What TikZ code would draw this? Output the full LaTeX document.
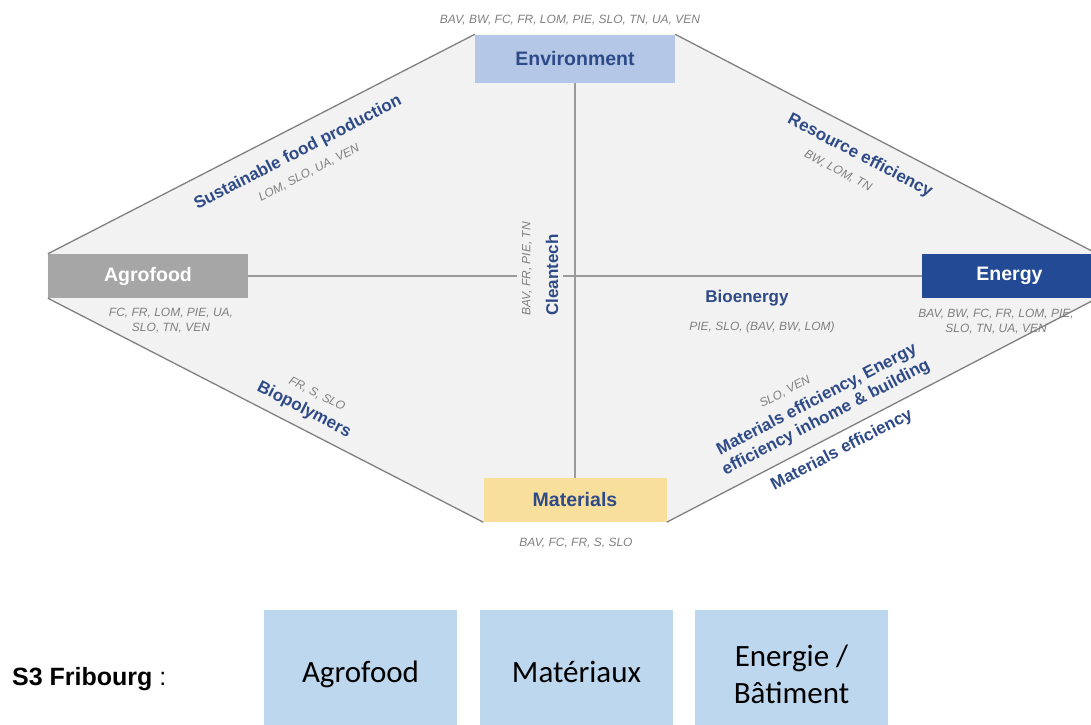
\documentclass[tikz,border=0pt]{standalone}
\usepackage{fontspec}
\setmainfont{Liberation Sans}
\newfontfamily\calibri{Carlito}
\usetikzlibrary{backgrounds}
\definecolor{bg}{HTML}{F2F2F2}
\definecolor{envblue}{HTML}{B4C7E7}
\definecolor{agrogrey}{HTML}{A6A6A6}
\definecolor{enblue}{HTML}{234A94}
\definecolor{matyellow}{HTML}{F8DF9C}
\definecolor{navy}{HTML}{2E4A87}
\definecolor{codegrey}{HTML}{7F7F7F}
\definecolor{edgegrey}{HTML}{808080}
\definecolor{axisgrey}{HTML}{9A9A9A}
\definecolor{s3blue}{HTML}{BDD7EE}
\begin{document}
\begin{tikzpicture}[x=1pt, y=-1pt,
        hub/.style={minimum height=44, inner sep=0, font=\bfseries\fontsize{19.5}{22}\selectfont},
        topic/.style={text=navy, align=center, inner sep=1, font=\bfseries\fontsize{17}{20}\selectfont},
        code/.style={text=codegrey, align=center, inner sep=1, font=\itshape\fontsize{12}{14.5}\selectfont},
        s3box/.style={fill=s3blue, minimum width=193, minimum height=128, inner sep=0, align=center, font=\calibri\fontsize{31}{37}\selectfont},
        edge/.style={draw=edgegrey, line width=1.3},
        axis/.style={draw=axisgrey, line width=1.6}]
            \useasboundingbox (0,0) rectangle (1091,724);
            \node[hub, fill=envblue, text=navy, minimum width=200, minimum height=48] (Env) at (575,58.5) {Environment};
            \node[hub, fill=agrogrey, text=white, minimum width=200] (Agro) at (148,276) {Agrofood};
            \node[hub, fill=enblue, text=white, minimum width=175] (En) at (1009.5,276) {Energy};
            \node[hub, fill=matyellow, text=navy, minimum width=183] (Mat) at (575,500) {Materials};
            \begin{scope}[on background layer]
                \fill[bg] (Agro.north west) -- (Env.north west) -- (Env.north east) -- (En.north east)
                    -- (En.south east) -- (Mat.south east) -- (Mat.south west) -- (Agro.south west) -- cycle;
            \end{scope}
            \draw[edge] (Agro.north west) -- (Env.north west);
            \draw[edge] (Env.north east) -- (En.north east);
            \draw[edge] (En.south east) -- (Mat.south east);
            \draw[edge] (Mat.south west) -- (Agro.south west);
            \coordinate (gapL) at (517,276);
            \coordinate (gapR) at (563,276);
            \draw[axis] (Env) -- (Mat);
            \draw[axis] (Agro) -- (gapL);
            \draw[axis] (gapR) -- (En);
            \node[code] (EnvCodes) at (570,20) {BAV, BW, FC, FR, LOM, PIE, SLO, TN, UA, VEN};
            \node[code] (AgroCodes) at (171,320.5) {FC, FR, LOM, PIE, UA,\\SLO, TN, VEN};
            \node[code] (EnCodes) at (996,321.5) {BAV, BW, FC, FR, LOM, PIE,\\SLO, TN, UA, VEN};
            \node[code] (MatCodes) at (576,543) {BAV, FC, FR, S, SLO};
            \node[topic, rotate=27.2] (Food) at (298,153) {Sustainable food production};
            \node[code, rotate=27.2] (FoodCodes) at (309,173) {LOM, SLO, UA, VEN};
            \node[topic, rotate=-27.5] (Res) at (860,156) {Resource efficiency};
            \node[code, rotate=-27.5] (ResCodes) at (838,171) {BW, LOM, TN};
            \node[topic, rotate=90] (Clean) at (552,275) {Cleantech};
            \node[code, rotate=90] (CleanCodes) at (527,269) {BAV, FR, PIE, TN};
            \node[topic] (Bio) at (747,298) {Bioenergy};
            \node[code] (BioCodes) at (762,327) {PIE, SLO, (BAV, BW, LOM)};
            \node[code, rotate=-27.2] (PolyCodes) at (317,394) {FR, S, SLO};
            \node[topic, rotate=-27.2] (Poly) at (304,410) {Biopolymers};
            \node[code, rotate=27.5] (HomeCodes) at (785,392) {SLO, VEN};
            \node[topic, rotate=27.5] (Home) at (821.5,409) {Materials efficiency, Energy\\efficiency inhome \& building};
            \node[topic, rotate=27.5] (MatEff) at (842,450) {Materials efficiency};
            \node[anchor=base west, inner sep=0, font=\fontsize{25}{30}\selectfont] (S3) at (12,685) {\textbf{S3 Fribourg} :};
            \node[s3box, text height=22, text depth=6] (F1) at (360.5,674) {Agrofood};
            \node[s3box, text height=22, text depth=6] (F2) at (576.5,674) {Matériaux};
            \node[s3box] (F3) at (791.5,674) {Energie /\\Bâtiment};
        \end{tikzpicture}
\end{document}
